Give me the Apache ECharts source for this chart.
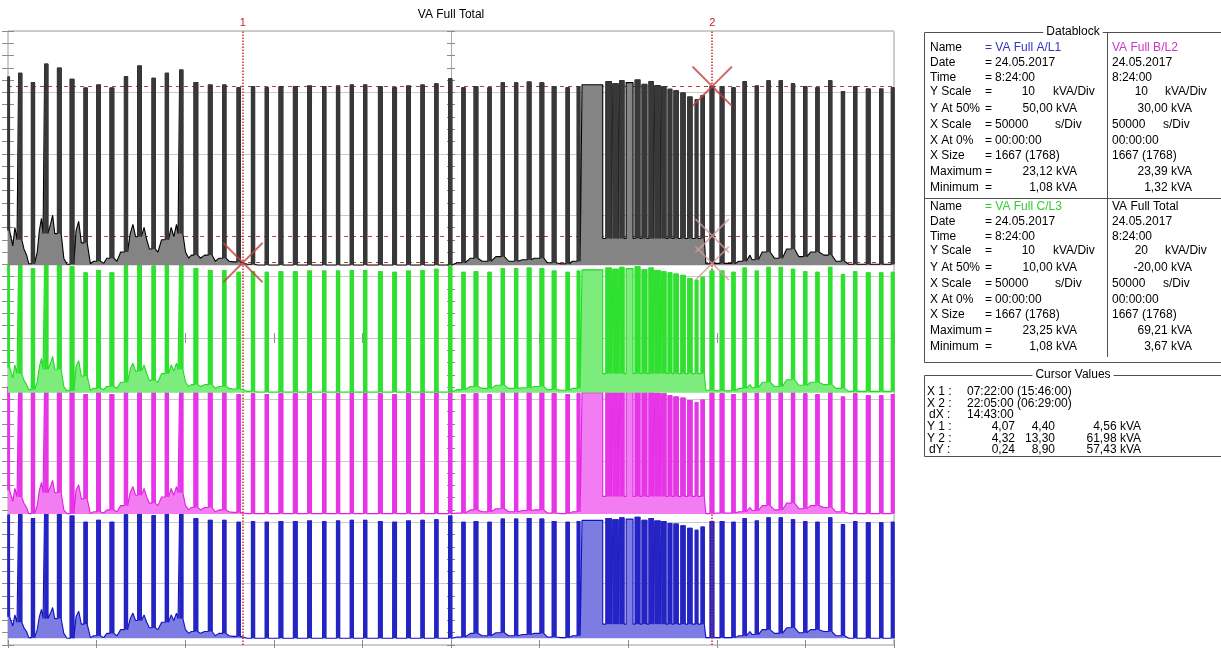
<!DOCTYPE html>
<html>
<head>
<meta charset="utf-8">
<title>VA Full Total</title>
<script src="https://cdn.jsdelivr.net/npm/echarts@6.0.0/dist/echarts.min.js"></script>
<style>
  html, body { margin: 0; padding: 0; background: #fff; }
  #chart { width: 1221px; height: 648px; }
</style>
</head>
<body>
<div id="chart"></div>
<script>
// ---- channel metadata (from the datablock) ----
const channelNames = ['VA Full A/L1', 'VA Full B/L2', 'VA Full C/L3', 'VA Full Total'];
const yScale = [10, 10, 10, 20];          // kVA/Div
const yAt50 = [50, 30, 10, -20];          // kVA at 50 %
const maxima = [23.12, 23.39, 23.25, 69.21];
const minima = [1.08, 1.32, 1.08, 3.67];
const recDate = '24.05.2017';
const recTime = '8:24:00';
const xScaleSec = 50000;
const xAt0 = '00:00:00';
const xSize = '1667 (1768)';
const xSpan = 1667;                       // minutes on screen

// ---- pulses (minutes) ----
const pulseOn = [0, 20, 44, 69, 93, 117, 143, 167, 192, 219,
  244, 271, 296, 323, 350, 377, 404, 431, 458, 484,
  510, 537, 564, 592, 618, 644, 669, 697, 724, 750,
  777, 803, 829, 854, 877, 903, 928, 953, 977, 1001,
  1024, 1050, 1071, 1080, 1125, 1138, 1151, 1163, 1180, 1193,
  1206, 1217, 1230, 1242, 1253, 1266, 1279, 1293, 1304, 1321,
  1340, 1362, 1383, 1406, 1428, 1451, 1474, 1497, 1520, 1544,
  1568, 1591, 1615, 1640, 1662];
const pulseOff = [3, 26, 50, 75, 100, 124, 149, 174, 199, 225,
  251, 277, 302, 329, 357, 384, 410, 437, 464, 490,
  517, 544, 571, 598, 624, 650, 675, 704, 731, 757,
  783, 809, 835, 860, 884, 909, 934, 959, 984, 1008,
  1031, 1056, 1076, 1119, 1135, 1148, 1159, 1176, 1189, 1202,
  1214, 1227, 1238, 1249, 1261, 1274, 1287, 1298, 1310, 1328,
  1347, 1368, 1389, 1412, 1434, 1457, 1480, 1503, 1526, 1550,
  1574, 1597, 1622, 1646, 1667];
const peakTotal = [65.1, 66.2, 63.2, 69.2, 67.9, 64.3, 61.4, 62.4, 61.4, 65.1,
  68.6, 64.6, 66.2, 67.3, 63.2, 62.4, 62.4, 61.5, 61.8, 61.5,
  61.8, 61.8, 62.1, 61.9, 62.1, 62.4, 62.4, 61.8, 61.5, 62.1,
  62.4, 62.8, 64.4, 61.5, 61.8, 61.5, 63.1, 63.1, 63.4, 63.1,
  61.9, 61.5, 61.9, 62.5, 63.5, 62.8, 63.8, 63.2, 64.0, 62.6,
  63.5, 62.2, 61.8, 61.0, 60.5, 59.8, 58.5, 57.6, 59.0, 61.98,
  61.9, 61.5, 63.5, 62.1, 63.8, 63.8, 62.8, 61.8, 61.5, 63.8,
  60.3, 61.8, 61.1, 61.1, 61.5];
const peakA = [21.2, 21.6, 20.6, 23.1, 22.4, 21.0, 20.0, 20.3, 20.0, 21.2,
  22.0, 21.1, 21.6, 22.1, 20.6, 20.3, 20.3, 20.0, 20.1, 20.0,
  20.1, 20.1, 20.2, 20.1, 20.2, 20.3, 20.3, 20.1, 20.0, 20.2,
  20.3, 20.4, 21.0, 20.0, 20.1, 20.0, 20.5, 20.5, 20.6, 20.5,
  20.1, 20.0, 20.1, 20.3, 20.6, 20.4, 20.7, 20.5, 20.8, 20.3,
  20.6, 20.2, 20.1, 19.8, 19.7, 19.4, 19.0, 18.7, 19.2, 20.1,
  20.1, 20.0, 20.6, 20.2, 20.7, 20.7, 20.4, 20.1, 20.0, 20.7,
  19.6, 20.1, 19.9, 19.9, 20.0];
const peakB = [22.0, 22.3, 21.3, 23.1, 22.8, 21.7, 20.8, 21.1, 20.8, 22.0,
  23.4, 21.8, 22.3, 22.6, 21.3, 21.1, 21.1, 20.8, 20.9, 20.8,
  20.9, 20.9, 21.0, 20.9, 21.0, 21.1, 21.1, 20.9, 20.8, 21.0,
  21.1, 21.2, 21.7, 20.8, 20.9, 20.8, 21.3, 21.3, 21.4, 21.3,
  20.9, 20.8, 20.9, 21.1, 21.5, 21.2, 21.6, 21.4, 21.6, 21.2,
  21.5, 21.0, 20.9, 20.6, 20.4, 20.2, 19.8, 19.5, 19.9, 21.0,
  20.9, 20.8, 21.5, 21.0, 21.6, 21.6, 21.2, 20.9, 20.8, 21.6,
  20.4, 20.9, 20.6, 20.6, 20.8];
const peakC = [21.9, 22.3, 21.3, 23.0, 22.7, 21.6, 20.6, 21.0, 20.6, 21.9,
  23.2, 21.7, 22.3, 22.6, 21.3, 21.0, 21.0, 20.7, 20.8, 20.7,
  20.8, 20.8, 20.9, 20.9, 20.9, 21.0, 21.0, 20.8, 20.7, 20.9,
  21.0, 21.2, 21.7, 20.7, 20.8, 20.7, 21.3, 21.3, 21.4, 21.3,
  20.9, 20.7, 20.9, 21.1, 21.4, 21.2, 21.5, 21.3, 21.6, 21.1,
  21.4, 21.0, 20.8, 20.6, 20.4, 20.2, 19.7, 19.4, 19.9, 20.9,
  20.9, 20.7, 21.4, 20.9, 21.5, 21.5, 21.2, 20.8, 20.7, 21.5,
  20.3, 20.8, 20.6, 20.6, 20.7];

// ---- levels between pulses (minutes / kVA) ----
const baseT = [5, 9, 13, 17, 30, 35, 39, 55, 59, 63, 66, 80, 84, 88, 105, 111, 128, 133, 138, 155,
  161, 180, 186, 205, 212, 230, 235, 240, 256, 261, 266, 282, 289, 307, 312, 317, 320, 334, 340, 345,
  362, 370, 390, 397, 416, 424, 442, 450, 470, 845, 870, 892, 918, 942, 968, 990, 1015, 1040, 1062, 1077,
  1313, 1334, 1375, 1396, 1400, 1419, 1442, 1465, 1488, 1510, 1535, 1558, 1582];
const baseTotal = [15, 10, 16, 12, 9, 7, 4.2, 8, 15, 19, 14, 17, 20, 14, 6, 4, 15, 18, 11, 4.2,
  5, 4.3, 6, 5, 8, 14, 17, 13, 16, 12, 9, 8, 12, 16, 13, 17, 14, 8, 6, 7,
  6, 7, 5, 6, 5, 4.8, 4.5, 4, 3.8, 4.5, 6, 5, 6.5, 5, 5.5, 6, 4.5, 4.2, 5, 12.4,
  4.2, 4.3, 5, 7, 5.5, 8, 6, 9, 6.5, 8, 7, 5, 4];
const baseA = [4.6, 3.1, 4.9, 3.7, 2.8, 2.2, 1.2, 2.5, 4.6, 5.8, 4.3, 5.2, 6.1, 4.3, 1.9, 1.1, 4.6, 5.5, 3.4, 1.2,
  1.5, 1.2, 1.9, 1.5, 2.5, 4.3, 5.2, 4.0, 4.9, 3.7, 2.8, 2.5, 3.7, 4.9, 4.0, 5.2, 4.3, 2.5, 1.9, 2.2,
  1.9, 2.2, 1.5, 1.9, 1.5, 1.4, 1.3, 1.1, 1.1, 1.3, 1.9, 1.5, 2.0, 1.5, 1.7, 1.9, 1.3, 1.2, 1.5, 3.4,
  1.2, 1.2, 1.5, 2.2, 1.7, 2.5, 1.9, 2.8, 2.0, 2.5, 2.2, 1.5, 1.1];
const baseB = [5.2, 3.4, 5.5, 4.1, 3.1, 2.4, 1.4, 2.7, 5.2, 6.5, 4.8, 5.8, 6.8, 4.8, 2.0, 1.4, 5.2, 6.1, 3.8, 1.4,
  1.7, 1.5, 2.0, 1.7, 2.7, 4.8, 5.8, 4.4, 5.5, 4.1, 3.1, 2.7, 4.1, 5.5, 4.4, 5.8, 4.8, 2.7, 2.0, 2.4,
  2.0, 2.4, 1.7, 2.0, 1.7, 1.6, 1.5, 1.4, 1.4, 1.5, 2.0, 1.7, 2.2, 1.7, 1.9, 2.0, 1.5, 1.4, 1.7, 4.2,
  1.4, 1.5, 1.7, 2.4, 1.9, 2.7, 2.0, 3.1, 2.2, 2.7, 2.4, 1.7, 1.4];
const baseC = [5.2, 3.5, 5.6, 4.2, 3.1, 2.4, 1.6, 2.8, 5.3, 6.7, 4.9, 5.9, 7.0, 4.9, 2.1, 1.4, 5.3, 6.3, 3.8, 1.5,
  1.8, 1.6, 2.1, 1.8, 2.8, 4.9, 5.9, 4.6, 5.6, 4.2, 3.1, 2.8, 4.2, 5.6, 4.6, 5.9, 4.9, 2.8, 2.1, 2.4,
  2.1, 2.4, 1.8, 2.1, 1.8, 1.7, 1.6, 1.3, 1.2, 1.6, 2.1, 1.8, 2.3, 1.8, 1.9, 2.1, 1.6, 1.5, 1.8, 4.2,
  1.5, 1.4, 1.8, 2.4, 1.9, 2.8, 2.1, 3.2, 2.3, 2.8, 2.4, 1.8, 1.3];

// ---- cursor readout ----
const cursorX = ['07:22:00 (15:46:00)', '22:05:00 (06:29:00)'];
const cursorDX = '14:43:00';
const cursorY1 = ['4,07', '4,40', '4,56'];
const cursorY2 = ['4,32', '13,30', '61,98'];
const cursorDY = ['0,24', '8,90', '57,43'];
const levelLines = [61.98, 13.30, 4.56];

const traceColors = ['#1010c0', '#e01ee0', '#1fdc1f', '#000000'];
const fillColors = ['#7c7ce2', '#f27cf2', '#7cec7c', '#848484'];
const pulseColors = ['#2424c4', '#e634e6', '#30e030', '#383838'];
const peaks = [peakA, peakB, peakC, peakTotal];
const bases = [baseA, baseB, baseC, baseTotal];

function hm(s) {
  const p = s.split(' ')[0].split(':').map(Number);
  return p[0] * 60 + p[1] + p[2] / 60;
}
const cursorMin = cursorX.map(hm);

// builds the trace polyline and the list of narrow pulse bodies [on, off, base, peak]
function buildTrace(peak, base) {
  const pts = [], bodies = [];
  let bi = 0, held = base[0];
  for (let k = 0; k < pulseOn.length; k++) {
    while (bi < baseT.length && baseT[bi] < pulseOn[k]) {
      held = base[bi]; pts.push([baseT[bi], held]); bi++;
    }
    pts.push([pulseOn[k], held], [pulseOn[k], peak[k]], [pulseOff[k], peak[k]], [pulseOff[k], held]);
    if (pulseOff[k] - pulseOn[k] <= 12) bodies.push([pulseOn[k], pulseOff[k], held, peak[k]]);
    while (bi < baseT.length && baseT[bi] <= pulseOff[k]) bi++;
  }
  while (bi < baseT.length) { held = base[bi]; pts.push([baseT[bi], held]); bi++; }
  pts.push([xSpan, held]);
  return { pts, bodies };
}

const fmt = v => v.toFixed(2).replace('.', ',');
const FONT = '12px "Liberation Sans", Arial, sans-serif';

const chart = echarts.init(document.getElementById('chart'));

// axes
const tickGray = '#8c8c8c';
const xAxes = [
  { position: 'bottom', axisTick: { show: true, inside: true, length: 5, lineStyle: { color: tickGray } } },
  { position: 'top', axisTick: { show: true, inside: true, length: 5, lineStyle: { color: tickGray } } },
  { position: 'bottom', offset: -307, axisLine: { show: true, lineStyle: { color: '#c4c4c4' } },
    axisTick: { show: true, inside: true, length: 5, lineStyle: { color: tickGray } } },
  { position: 'bottom', offset: -307,
    axisTick: { show: true, inside: false, length: 5, lineStyle: { color: tickGray } } }
].map(a => Object.assign({
  type: 'value', min: 0, max: xSpan, interval: xSpan / 10,
  axisLabel: { show: false }, splitLine: { show: false },
  axisLine: { show: false }
}, a));

const divAxes = [
  { position: 'left', splitLine: { show: true, lineStyle: { color: '#cacaca' } },
    axisTick: { show: true, inside: true, length: 6, lineStyle: { color: tickGray } },
    minorTick: { show: true, splitNumber: 5, length: 6, lineStyle: { color: tickGray } } },
  { position: 'right',
    axisTick: { show: true, inside: true, length: 6, lineStyle: { color: tickGray } },
    minorTick: { show: true, splitNumber: 5, length: 6, lineStyle: { color: tickGray } } },
  { position: 'left', offset: -443, axisLine: { show: true, lineStyle: { color: '#a8a8a8' } },
    axisTick: { show: true, inside: true, length: 4, lineStyle: { color: tickGray } },
    minorTick: { show: true, splitNumber: 5, length: 4, lineStyle: { color: tickGray } } },
  { position: 'left', offset: -443,
    axisTick: { show: true, inside: false, length: 4, lineStyle: { color: tickGray } },
    minorTick: { show: true, splitNumber: 5, length: 4, lineStyle: { color: tickGray } } }
].map(a => Object.assign({
  type: 'value', min: 0, max: 10, interval: 1,
  axisLabel: { show: false }, splitLine: { show: false }, axisLine: { show: false }
}, a));

const chanAxes = yScale.map((s, i) => ({
  type: 'value', show: false,
  min: yAt50[i] - 5 * s, max: yAt50[i] + 5 * s
}));

const series = [];
[0, 1, 2, 3].forEach(i => {
  const tr = buildTrace(peaks[i], bases[i]);
  series.push({
    name: channelNames[i],
    type: 'line',
    xAxisIndex: 0,
    yAxisIndex: 4 + i,
    data: tr.pts,
    showSymbol: false,
    symbol: 'none',
    silent: true,
    lineStyle: { color: traceColors[i], width: 1.1 },
    areaStyle: { color: fillColors[i], opacity: 1, origin: minima[i] },
    z: 2 + 2 * i
  });
  // solid bodies of the narrow pulses, painted over the outline
  series.push({
    type: 'custom',
    xAxisIndex: 0,
    yAxisIndex: 4 + i,
    silent: true,
    z: 3 + 2 * i,
    data: tr.bodies,
    encode: { x: [0, 1], y: [2, 3] },
    renderItem: (params, api) => {
      const p0 = api.coord([api.value(0), api.value(3)]);
      const p1 = api.coord([api.value(1), api.value(2)]);
      return {
        type: 'rect',
        shape: { x: p0[0] - 0.5, y: p0[1] - 0.5, width: p1[0] - p0[0] + 1, height: p1[1] - p0[1] + 0.5 },
        style: { fill: pulseColors[i] }
      };
    }
  });
});

const crossPath = 'path://M0,0L1.4,0L20,18.6L38.6,0L40,0L40,1.4L21.4,20L40,38.6L40,40L38.6,40L20,21.4L1.4,40L0,40L0,38.6L18.6,20L0,1.4Z';
series.push({
  type: 'scatter', xAxisIndex: 0, yAxisIndex: 7, silent: true, z: 14,
  symbol: crossPath, symbolSize: 40,
  itemStyle: { color: '#c84040' },
  data: [[cursorMin[0], 4.56], [cursorMin[1], 61.98]],
  markLine: {
    silent: true,
    symbol: ['none', 'none'],
    animation: false,
    data: [
      { xAxis: cursorMin[0], label: { show: true, formatter: '1' },
        lineStyle: { type: 'dotted', color: '#d02828', width: 1.5 } },
      { xAxis: cursorMin[1], label: { show: true, formatter: '2' },
        lineStyle: { type: 'dotted', color: '#d02828', width: 1.5 } }
    ].concat(levelLines.map(v => ({
      yAxis: v, label: { show: false },
      lineStyle: { type: [4, 4], color: '#b84040', width: 1 }
    }))),
    label: { position: 'end', color: '#c02020', fontSize: 11, distance: 3 }
  }
});
series.push({
  type: 'scatter', xAxisIndex: 0, yAxisIndex: 7, silent: true, z: 14,
  symbol: crossPath, symbolSize: 34,
  itemStyle: { color: '#d49a9a' },
  data: [[cursorMin[1], 13.30], [cursorMin[1], 4.32]]
});

// ---- datablock / cursor value panel ----
const g = [];
function txt(x, y, s, color, align, extra) {
  g.push({
    type: 'text', x: x, y: y, silent: true, z: 20,
    style: Object.assign({
      text: s, fill: color || '#000', font: FONT,
      textAlign: align || 'left', textVerticalAlign: 'middle',
      align: align || 'left', verticalAlign: 'middle'
    }, extra || {})
  });
}
function ln(x1, y1, x2, y2) {
  g.push({ type: 'line', silent: true, z: 19, shape: { x1, y1, x2, y2 },
    style: { stroke: '#505050', lineWidth: 1 } });
}

txt(451, 15, 'VA Full Total', '#000', 'center');

// frames
ln(924.5, 32.5, 1221, 32.5);
ln(924.5, 32.5, 924.5, 362.5);
ln(924.5, 362.5, 1221, 362.5);
ln(924.5, 198.5, 1221, 198.5);
ln(1107.5, 32.5, 1107.5, 357);
ln(924.5, 375.5, 1221, 375.5);
ln(924.5, 375.5, 924.5, 456.5);
ln(924.5, 456.5, 1221, 456.5);
txt(1073, 32, 'Datablock', '#000', 'center', { backgroundColor: '#fff', padding: [0, 3] });
txt(1073, 375, 'Cursor Values', '#000', 'center', { backgroundColor: '#fff', padding: [0, 3] });

const rowLabels = ['Name', 'Date', 'Time', 'Y Scale', 'Y At 50%', 'X Scale', 'X At 0%', 'X Size', 'Maximum', 'Minimum'];
const rowDy = [0, 14.8, 29.3, 44, 60.5, 77, 92.5, 107.5, 124, 139.5];
const blockTop = [48, 207];
const nameColors = ['#3434c0', '#cc34cc', '#34cc34', '#000000'];

[[0, 1], [2, 3]].forEach((pair, b) => {
  const y = rowDy.map(d => blockTop[b] + d);
  rowLabels.forEach((l, r) => {
    txt(930, y[r], l);
    if (r > 0) txt(985, y[r], '=');
  });
  // left column
  const a = pair[0];
  txt(985, y[0], '= ' + channelNames[a], nameColors[a]);
  txt(995, y[1], recDate);
  txt(995, y[2], recTime);
  txt(1035, y[3], String(yScale[a]), '#000', 'right');
  txt(1053, y[3], 'kVA/Div');
  txt(1077, y[4], fmt(yAt50[a]) + ' kVA', '#000', 'right');
  txt(995, y[5], String(xScaleSec));
  txt(1055, y[5], 's/Div');
  txt(995, y[6], xAt0);
  txt(995, y[7], xSize);
  txt(1077, y[8], fmt(maxima[a]) + ' kVA', '#000', 'right');
  txt(1077, y[9], fmt(minima[a]) + ' kVA', '#000', 'right');
  // right column
  const c = pair[1];
  txt(1112, y[0], channelNames[c], nameColors[c]);
  txt(1112, y[1], recDate);
  txt(1112, y[2], recTime);
  txt(1148, y[3], String(yScale[c]), '#000', 'right');
  txt(1165, y[3], 'kVA/Div');
  txt(1192, y[4], fmt(yAt50[c]) + ' kVA', '#000', 'right');
  txt(1112, y[5], String(xScaleSec));
  txt(1163, y[5], 's/Div');
  txt(1112, y[6], xAt0);
  txt(1112, y[7], xSize);
  txt(1192, y[8], fmt(maxima[c]) + ' kVA', '#000', 'right');
  txt(1192, y[9], fmt(minima[c]) + ' kVA', '#000', 'right');
});

const cy = [391.5, 403.5, 415, 427, 438.5, 450];
txt(927, cy[0], 'X 1 :');
txt(927, cy[1], 'X 2 :');
txt(929, cy[2], 'dX :');
txt(927, cy[3], 'Y 1 :');
txt(927, cy[4], 'Y 2 :');
txt(929, cy[5], 'dY :');
txt(967, cy[0], cursorX[0]);
txt(967, cy[1], cursorX[1]);
txt(967, cy[2], cursorDX);
[cursorY1, cursorY2, cursorDY].forEach((row, r) => {
  txt(1015, cy[3 + r], row[0], '#000', 'right');
  txt(1055, cy[3 + r], row[1], '#000', 'right');
  txt(1141, cy[3 + r], row[2] + ' kVA', '#000', 'right');
});

const option = {
  animation: false,
  backgroundColor: '#fff',
  grid: { left: 8, right: 327, top: 31, bottom: 3, show: true, borderColor: '#9c9c9c', borderWidth: 1, backgroundColor: '#fff' },
  xAxis: xAxes,
  yAxis: divAxes.concat(chanAxes),
  series: series,
  graphic: { elements: g }
};

chart.setOption(option);
window.addEventListener('resize', chart.resize);
</script>
</body>
</html>
